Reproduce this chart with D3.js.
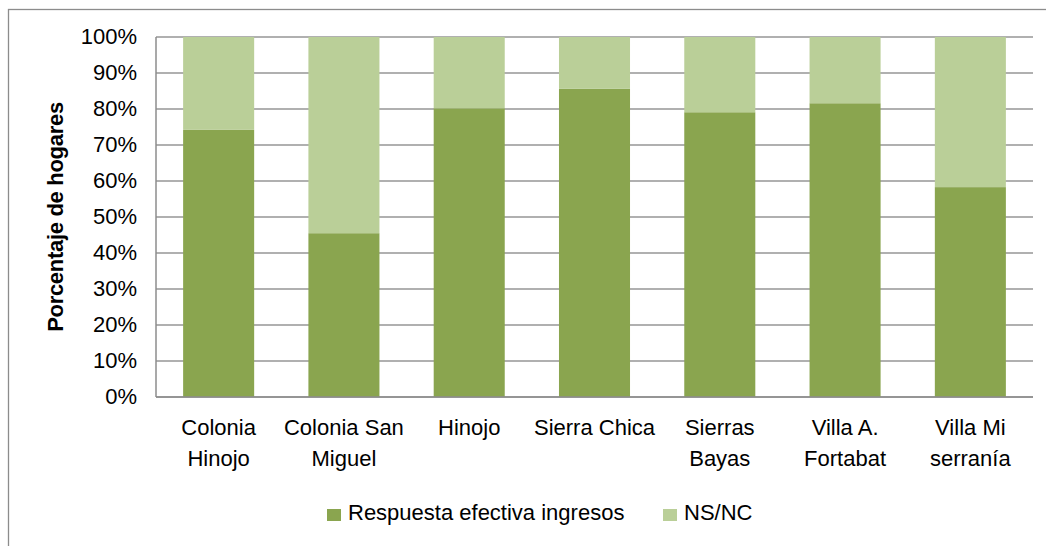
<!DOCTYPE html>
<html>
<head>
<meta charset="utf-8">
<script src="https://cdn.jsdelivr.net/npm/d3@7"></script>
<style>
  html, body { margin: 0; padding: 0; background: #fff; }
  svg { display: block; }
  text { font-family: "Liberation Sans", Arial, sans-serif; fill: #000; }
</style>
</head>
<body>
<svg id="chart" width="1046" height="546"></svg>
<script>
// Localidades (two-line labels)
const categories = [
  ["Colonia", "Hinojo"],
  ["Colonia San", "Miguel"],
  ["Hinojo"],
  ["Sierra Chica"],
  ["Sierras", "Bayas"],
  ["Villa A.", "Fortabat"],
  ["Villa Mi", "serranía"]
];
const seriesNames = ["Respuesta efectiva ingresos", "NS/NC"];
const respuesta = [74.2, 45.5, 80.2, 85.6, 79.1, 81.6, 58.3];
const nsnc = respuesta.map(v => 100 - v);
const colors = ["#8aa54f", "#bacf98"];
const yTicks = [0, 10, 20, 30, 40, 50, 60, 70, 80, 90, 100];

const svg = d3.select("#chart");
const plot = { left: 156, right: 1033, top: 37, bottom: 397 };
const fontSize = 22;

// outer chart frame
svg.append("rect")
  .attr("x", 8.5).attr("y", 9.5)
  .attr("width", 1060).attr("height", 560)
  .attr("fill", "none").attr("stroke", "#8c8c8c").attr("stroke-width", 1.3);

const x = d3.scaleBand()
  .domain(d3.range(categories.length))
  .range([plot.left, plot.right])
  .paddingInner(0.433).paddingOuter(0.2165);

const y = d3.scaleLinear().domain([0, 100]).range([plot.bottom, plot.top]);

// horizontal gridlines
svg.append("g").selectAll("line").data(yTicks).join("line")
  .attr("x1", plot.left).attr("x2", plot.right)
  .attr("y1", d => y(d)).attr("y2", d => y(d))
  .attr("stroke", "#969696").attr("stroke-width", 1.5);

// stacked bars
const stackData = categories.map((c, i) => ({ i, a: respuesta[i], b: nsnc[i] }));
const stack = d3.stack().keys(["a", "b"])(stackData);
svg.append("g").selectAll("g").data(stack).join("g")
  .attr("fill", (d, k) => colors[k])
  .selectAll("rect").data(d => d).join("rect")
  .attr("x", d => x(d.data.i))
  .attr("width", x.bandwidth())
  .attr("y", d => y(d[1]))
  .attr("height", d => y(d[0]) - y(d[1]));

// axis lines
svg.append("line")
  .attr("x1", plot.left).attr("x2", plot.left)
  .attr("y1", plot.top).attr("y2", plot.bottom)
  .attr("stroke", "#8c8c8c").attr("stroke-width", 1.5);
svg.append("line")
  .attr("x1", plot.left).attr("x2", plot.right)
  .attr("y1", plot.bottom).attr("y2", plot.bottom)
  .attr("stroke", "#8c8c8c").attr("stroke-width", 1.5);

// y tick labels
svg.append("g").selectAll("text").data(yTicks).join("text")
  .attr("x", 137).attr("y", d => y(d))
  .attr("dy", "0.3em")
  .attr("text-anchor", "end")
  .attr("font-size", fontSize)
  .text(d => d + "%");

// y axis title
svg.append("text")
  .attr("transform", `translate(62.5,${(plot.top + plot.bottom) / 2}) rotate(-90)`)
  .attr("text-anchor", "middle")
  .attr("font-size", fontSize)
  .attr("font-weight", "bold")
  .attr("letter-spacing", -0.3)
  .text("Porcentaje de hogares");

// category labels
const catG = svg.append("g").selectAll("text").data(categories).join("text")
  .attr("text-anchor", "middle")
  .attr("font-size", fontSize);
catG.selectAll("tspan").data((d, i) => d.map(t => ({ t, i }))).join("tspan")
  .attr("x", d => x(d.i) + x.bandwidth() / 2)
  .attr("y", (d, j) => 435 + j * 31)
  .text(d => d.t);

// legend
const legendItems = [
  { name: seriesNames[0], color: colors[0], x: 327 },
  { name: seriesNames[1], color: colors[1], x: 663 }
];
const lg = svg.append("g").selectAll("g").data(legendItems).join("g")
  .attr("transform", d => `translate(${d.x},0)`);
lg.append("rect")
  .attr("x", 0).attr("y", 509).attr("width", 14).attr("height", 12)
  .attr("fill", d => d.color);
lg.append("text")
  .attr("x", 21).attr("y", 519.5)
  .attr("font-size", fontSize)
  .text(d => d.name);
</script>
</body>
</html>
